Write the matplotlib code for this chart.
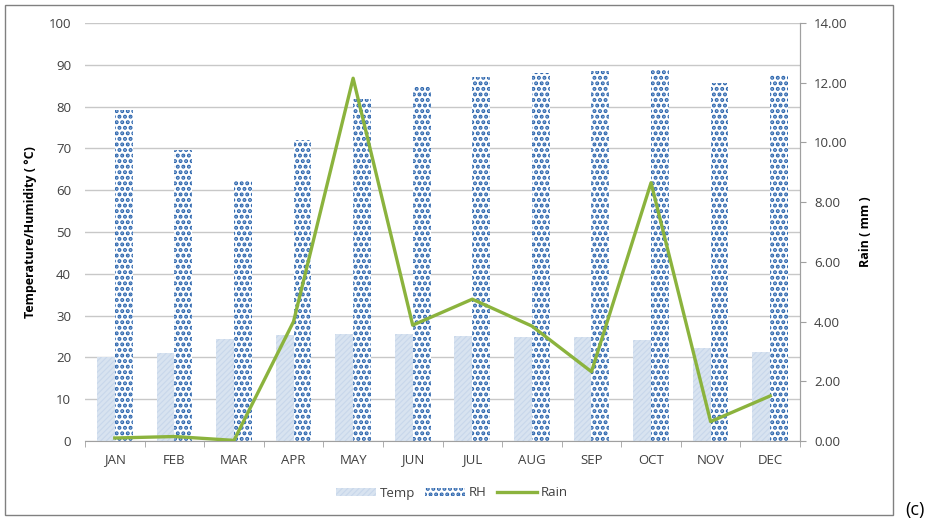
import numpy as np
import matplotlib.pyplot as plt
from matplotlib.patches import Rectangle
from matplotlib.lines import Line2D

plt.rcParams['font.family'] = ['Open Sans', 'DejaVu Sans']
plt.rcParams['hatch.linewidth'] = 2.0

months = ['JAN', 'FEB', 'MAR', 'APR', 'MAY', 'JUN', 'JUL', 'AUG', 'SEP', 'OCT', 'NOV', 'DEC']
temp = [20.2, 21.1, 24.3, 25.4, 25.6, 25.6, 25.1, 24.8, 24.9, 24.2, 22.2, 21.2]
rh = [79.2, 69.6, 62.4, 71.9, 81.9, 84.8, 87.0, 88.1, 88.5, 88.8, 85.7, 87.5]
rain = [0.10, 0.15, 0.02, 4.00, 12.15, 3.88, 4.75, 3.85, 2.32, 8.65, 0.65, 1.51]

fig = plt.figure(figsize=(9.33, 5.2), dpi=100)
ax = fig.add_axes([85 / 933, 79 / 520, 715 / 933, 418 / 520])
ax2 = ax.twinx()

x = np.arange(len(months))
w = 0.3
txt = '#404040'
fs = 9.5

ax.bar(x - w / 2, temp, w, color='#c8d7eb', edgecolor='#d8e3f0', hatch='//////',
       linewidth=0, zorder=2, label='Temp')
ax.bar(x + w / 2, rh, w, color='white', edgecolor='#2a64ad', hatch='...',
       linewidth=0, zorder=2, label='RH')
ax2.plot(x, rain, color='#8bb33d', lw=2.4, zorder=3, label='Rain')

ax.set_xlim(-0.5, len(months) - 0.5)
ax.set_ylim(0, 100)
ax.set_yticks(range(0, 101, 10))
ax2.set_ylim(0, 14)
ax2.set_yticks(np.arange(0, 14.1, 2))
ax2.set_yticklabels([f'{v:.2f}' for v in np.arange(0, 14.1, 2)])

ax.set_xticks(x)
ax.set_xticklabels(months)
ax.set_xticks(np.arange(-0.5, len(months), 1), minor=True)
ax.tick_params(axis='x', which='major', length=0, pad=9, labelsize=fs, labelcolor=txt)
ax.tick_params(axis='x', which='minor', length=4, color='#a0a0a0')
ax.tick_params(axis='y', length=0, pad=10, labelsize=fs, labelcolor=txt)
ax2.tick_params(axis='y', length=4, color='#a0a0a0', pad=6, labelsize=fs, labelcolor=txt)

ax.grid(axis='y', color='#c8c8c8', lw=1, zorder=0)
ax.set_axisbelow(True)
for a in (ax, ax2):
    for s in ('top', 'left'):
        a.spines[s].set_visible(False)
    a.spines['bottom'].set_color('#a0a0a0')
    a.spines['right'].set_color('#a0a0a0')
ax2.spines['bottom'].set_visible(False)

ax.set_ylabel('Temperature/Humidity ( °C)', fontsize=9, fontweight='bold', color='black', labelpad=8)
ax2.set_ylabel('Rain ( mm )', fontsize=9, fontweight='bold', color='black', labelpad=8)

handles = [
    Rectangle((0, 0), 1, 1, facecolor='#c8d7eb', edgecolor='#d8e3f0', hatch='//////', lw=0),
    Rectangle((0, 0), 1, 1, facecolor='white', edgecolor='#2a64ad', hatch='...', lw=0),
    Line2D([0], [0], color='#8bb33d', lw=2.4),
]
fig.legend(handles, ['Temp', 'RH', 'Rain'], loc='center', bbox_to_anchor=(452 / 933, 1 - 493 / 520),
           ncol=3, frameon=False, fontsize=fs, handlelength=3.0, handleheight=0.6,
           columnspacing=0.8, handletextpad=0.3, labelcolor=txt)

fig.patches.append(Rectangle((5 / 933, 5 / 520), 888 / 933, 510 / 520, transform=fig.transFigure,
                             fill=False, edgecolor='#808080', lw=1))
fig.text(905 / 933, 1 - 510 / 520, '(c)', fontsize=13, va='center', ha='left')

fig.savefig('out.png', dpi=100)
